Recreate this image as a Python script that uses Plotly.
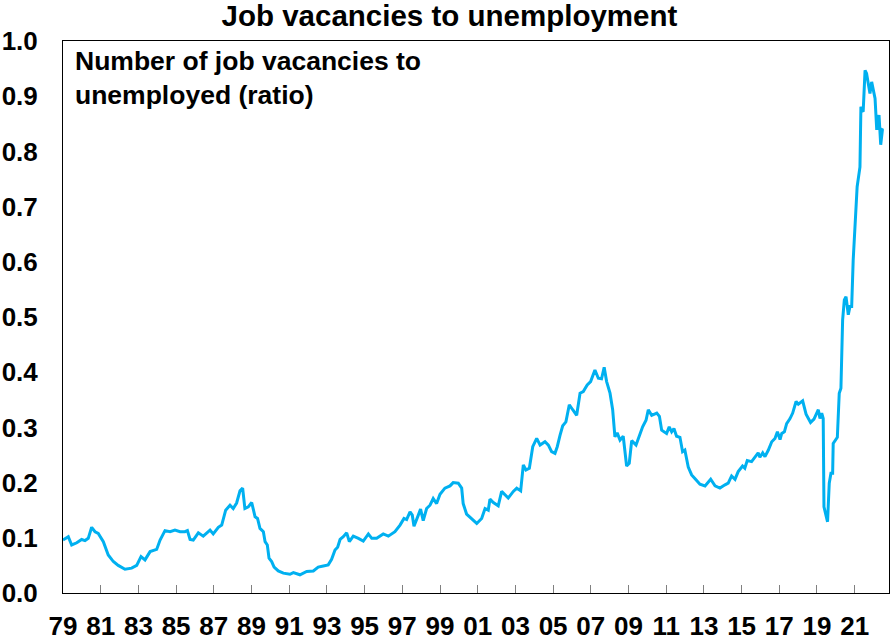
import plotly.graph_objects as go

# decimal year positions and ratio values
years = [
    1979.00, 1979.15, 1979.28, 1979.46, 1979.73, 1979.99, 1980.17, 1980.34, 1980.52, 1980.70,
    1980.87, 1981.14, 1981.40, 1981.67, 1981.93, 1982.29, 1982.64, 1982.91, 1983.14, 1983.35,
    1983.62, 1983.97, 1984.15, 1984.41, 1984.68, 1984.94, 1985.21, 1985.47, 1985.60, 1985.74,
    1985.91, 1986.18, 1986.44, 1986.80, 1986.97, 1987.24, 1987.42, 1987.63, 1987.86, 1988.03,
    1988.21, 1988.39, 1988.53, 1988.65, 1988.83, 1989.01, 1989.19, 1989.32, 1989.45, 1989.63,
    1989.72, 1989.84, 1989.93, 1990.07, 1990.20, 1990.42, 1990.69, 1991.04, 1991.22, 1991.57,
    1991.93, 1992.28, 1992.54, 1992.81, 1993.07, 1993.25, 1993.43, 1993.57, 1993.70, 1993.87,
    1994.05, 1994.19, 1994.40, 1994.67, 1994.93, 1995.20, 1995.38, 1995.64, 1995.99, 1996.26,
    1996.61, 1996.88, 1997.09, 1997.23, 1997.41, 1997.53, 1997.62, 1997.85, 1997.97, 1998.11,
    1998.29, 1998.47, 1998.64, 1998.82, 1999.00, 1999.26, 1999.53, 1999.70, 1999.97, 2000.15,
    2000.23, 2000.41, 2000.68, 2000.95, 2001.21, 2001.39, 2001.56, 2001.65, 2001.83, 2002.09,
    2002.27, 2002.45, 2002.62, 2002.89, 2003.07, 2003.28, 2003.42, 2003.56, 2003.74, 2003.92,
    2004.13, 2004.31, 2004.57, 2004.75, 2004.92, 2005.10, 2005.22, 2005.37, 2005.51, 2005.68,
    2005.86, 2006.04, 2006.25, 2006.43, 2006.60, 2006.81, 2006.99, 2007.22, 2007.40, 2007.57,
    2007.71, 2007.84, 2008.02, 2008.16, 2008.28, 2008.40, 2008.55, 2008.72, 2008.90, 2009.04,
    2009.17, 2009.40, 2009.57, 2009.75, 2009.93, 2010.05, 2010.23, 2010.50, 2010.64, 2010.76,
    2011.02, 2011.16, 2011.29, 2011.41, 2011.55, 2011.73, 2011.87, 2011.99, 2012.17, 2012.35,
    2012.58, 2012.79, 2013.06, 2013.36, 2013.59, 2013.85, 2014.12, 2014.29, 2014.47, 2014.65,
    2014.82, 2015.05, 2015.17, 2015.30, 2015.53, 2015.71, 2015.88, 2015.97, 2016.12, 2016.24,
    2016.42, 2016.60, 2016.77, 2016.90, 2017.04, 2017.13, 2017.27, 2017.39, 2017.57, 2017.71,
    2017.89, 2018.01, 2018.24, 2018.42, 2018.66, 2018.84, 2019.07, 2019.16, 2019.25, 2019.33,
    2019.37, 2019.56, 2019.65, 2019.74, 2019.83, 2019.86, 2020.00, 2020.08, 2020.18, 2020.27,
    2020.36, 2020.45, 2020.54, 2020.66, 2020.75, 2020.84, 2020.92, 2021.05, 2021.13, 2021.28,
    2021.33, 2021.40, 2021.45, 2021.55, 2021.63, 2021.72, 2021.81, 2021.90, 2021.99, 2022.08,
    2022.17, 2022.29, 2022.38, 2022.47, 2022.52,
]
ratio = [
    0.096, 0.100, 0.102, 0.087, 0.091, 0.097, 0.095, 0.099, 0.119, 0.111,
    0.108, 0.093, 0.069, 0.057, 0.050, 0.043, 0.045, 0.050, 0.066, 0.060,
    0.075, 0.079, 0.096, 0.113, 0.111, 0.114, 0.111, 0.111, 0.113, 0.097,
    0.096, 0.109, 0.103, 0.114, 0.107, 0.119, 0.123, 0.150, 0.159, 0.153,
    0.163, 0.185, 0.190, 0.153, 0.156, 0.164, 0.138, 0.135, 0.117, 0.111,
    0.093, 0.087, 0.063, 0.057, 0.047, 0.040, 0.036, 0.034, 0.037, 0.033,
    0.039, 0.040, 0.047, 0.049, 0.051, 0.061, 0.078, 0.083, 0.097, 0.102,
    0.109, 0.093, 0.103, 0.099, 0.094, 0.107, 0.099, 0.099, 0.107, 0.103,
    0.111, 0.123, 0.135, 0.133, 0.147, 0.141, 0.121, 0.141, 0.152, 0.131,
    0.153, 0.159, 0.171, 0.162, 0.179, 0.190, 0.194, 0.200, 0.199, 0.190,
    0.162, 0.143, 0.135, 0.126, 0.135, 0.153, 0.150, 0.170, 0.164, 0.158,
    0.184, 0.178, 0.172, 0.184, 0.190, 0.185, 0.232, 0.223, 0.226, 0.265,
    0.280, 0.268, 0.274, 0.268, 0.256, 0.253, 0.265, 0.286, 0.303, 0.310,
    0.341, 0.332, 0.322, 0.362, 0.365, 0.377, 0.383, 0.404, 0.389, 0.388,
    0.409, 0.383, 0.362, 0.332, 0.283, 0.290, 0.277, 0.284, 0.230, 0.235,
    0.276, 0.268, 0.286, 0.301, 0.313, 0.332, 0.322, 0.326, 0.320, 0.295,
    0.289, 0.301, 0.292, 0.298, 0.284, 0.282, 0.256, 0.259, 0.228, 0.214,
    0.205, 0.197, 0.194, 0.206, 0.194, 0.190, 0.196, 0.199, 0.212, 0.206,
    0.220, 0.230, 0.226, 0.240, 0.238, 0.247, 0.254, 0.246, 0.254, 0.247,
    0.259, 0.274, 0.280, 0.292, 0.278, 0.289, 0.292, 0.307, 0.316, 0.326,
    0.347, 0.342, 0.348, 0.324, 0.309, 0.315, 0.332, 0.316, 0.326, 0.316,
    0.156, 0.129, 0.199, 0.217, 0.217, 0.271, 0.277, 0.282, 0.362, 0.371,
    0.495, 0.531, 0.537, 0.504, 0.519, 0.519, 0.603, 0.700, 0.736, 0.772,
    0.881, 0.874, 0.872, 0.947, 0.941, 0.923, 0.905, 0.926, 0.911, 0.896,
    0.839, 0.866, 0.812, 0.839, 0.838,
]

tick_years = list(range(1979, 2022, 2))
tick_labels = [f"{y % 100:02d}" for y in tick_years]
y_ticks = [0.0, 0.1, 0.2, 0.3, 0.4, 0.5, 0.6, 0.7, 0.8, 0.9, 1.0]
y_labels = [f"{v:.1f}" for v in y_ticks]

FONT = "Liberation Sans, Arial, sans-serif"

fig = go.Figure()
fig.add_trace(go.Scatter(
    x=years, y=ratio, mode="lines",
    line=dict(color="#00B0F0", width=3),
    hoverinfo="skip", showlegend=False,
))

fig.update_layout(
    width=890, height=644,
    margin=dict(l=63, r=1, t=41, b=51),
    paper_bgcolor="white", plot_bgcolor="white",
    font=dict(family=FONT, color="black"),
    title=dict(
        text="<b>Job vacancies to unemployment</b>",
        x=0.505, xanchor="center", y=0.975, yanchor="middle",
        font=dict(size=29.5, family=FONT, color="black"),
    ),
    xaxis=dict(
        range=[1979, 2022.82],
        tickmode="array", tickvals=tick_years, ticktext=tick_labels,
        ticks="inside", ticklen=8, tickwidth=1, tickcolor="#808080",
        showline=True, linecolor="black", linewidth=1, mirror=True,
        showgrid=False, zeroline=False,
        tickfont=dict(size=26, family=FONT, color="black", weight="bold"),
        ticklabelstandoff=10,
        automargin=False,
        fixedrange=True,
    ),
    yaxis=dict(
        range=[0, 1.0],
        tickmode="array", tickvals=y_ticks, ticktext=y_labels,
        ticks="",
        showline=True, linecolor="black", linewidth=1, mirror=True,
        showgrid=False, zeroline=False,
        tickfont=dict(size=26, family=FONT, color="black", weight="bold"),
        ticklabelstandoff=19,
        automargin=False,
        fixedrange=True,
    ),
    annotations=[dict(
        text="<b>Number of job vacancies to<br>unemployed (ratio)</b>",
        xref="paper", yref="paper", x=0.012, y=0.994,
        xanchor="left", yanchor="top", align="left", showarrow=False,
        font=dict(size=26.5, family=FONT, color="black"),
    )],
)

fig.write_html(
    "out.html",
    config={"displayModeBar": False},
    post_script="document.body.style.margin='0';document.body.style.overflow='hidden';",
)
